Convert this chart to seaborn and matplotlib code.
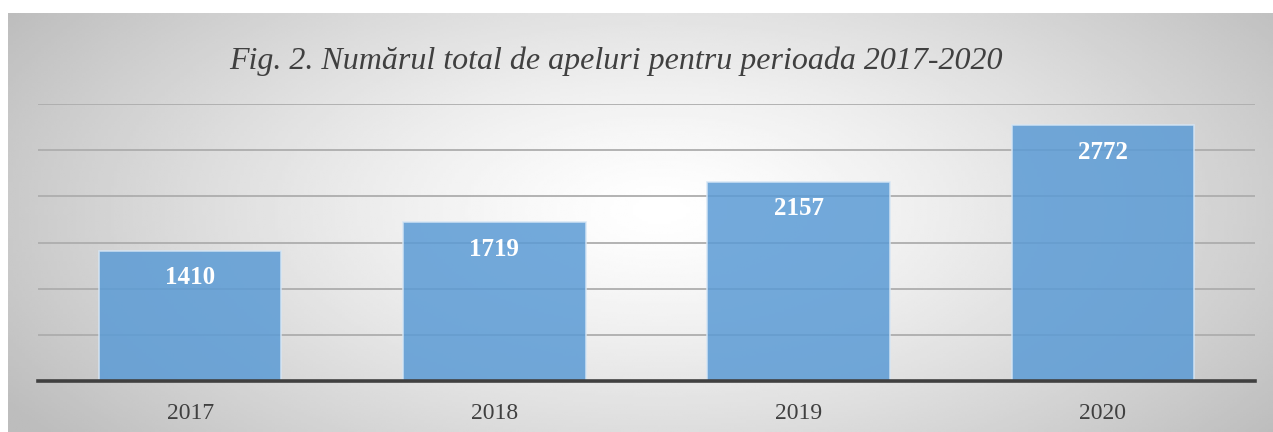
import numpy as np
import matplotlib
matplotlib.use("Agg")
import matplotlib.pyplot as plt
import seaborn as sns

years = ["2017", "2018", "2019", "2020"]
calls = [1410, 1719, 2157, 2772]
title = "Fig. 2. Numărul total de apeluri pentru perioada 2017-2020"

sns.set_style("white")
plt.rcParams["font.family"] = ["Liberation Serif", "DejaVu Serif"]

W, H = 1273, 432
fig = plt.figure(figsize=(W / 100, H / 100), dpi=100)
fig.patch.set_facecolor("white")

# radial grey background panel
bg = fig.add_axes([8 / W, 0, 1 - 8 / W, (H - 13) / H], zorder=-10)
gx, gy = np.meshgrid(np.linspace(8, W, 400), np.linspace(13, H, 200))
d = np.sqrt(((gx - 660) / 700) ** 2 + ((gy - 210) / 340) ** 2)
shade = np.clip(1.0 - 0.23 * d ** 1.3, 0.74, 1.0)
bg.imshow(shade, cmap="gray", vmin=0, vmax=1, aspect="auto",
          extent=[0, 1, 1, 0], interpolation="bilinear")
bg.axis("off")

ax = fig.add_axes([38 / W, (H - 381) / H, (1255 - 38) / W, (381 - 104) / H])
ax.set_facecolor("none")

sns.barplot(x=years, y=calls, color="#5B9BD5", saturation=1, width=0.6,
            alpha=0.85, edgecolor="#d6e6f5", linewidth=1.2, ax=ax)

for i, v in enumerate(calls):
    ax.annotate(str(v), (i, v), xytext=(0, -19.5), textcoords="offset points",
                ha="center", va="center", color="white", fontsize=18,
                fontweight="bold")

ax.set_ylim(0, 3000)
ax.set_xlim(-0.5, 3.5)
ax.set_yticks(np.arange(0, 3001, 500))
ax.set_yticklabels([])
ax.yaxis.grid(True, color="#adadad", linewidth=1.3)
ax.set_axisbelow(True)
ax.tick_params(axis="y", length=0)
ax.tick_params(axis="x", length=0, pad=16, labelsize=17, labelcolor="#404040")
ax.set_xlabel("")
ax.set_ylabel("")
for s in ["top", "left", "right"]:
    ax.spines[s].set_visible(False)
ax.spines["bottom"].set_color("#404040")
ax.spines["bottom"].set_linewidth(2.6)

fig.text(616 / W, 1 - 61 / H, title, ha="center", va="center",
         fontsize=23, style="italic", color="#404040")

fig.savefig("out.png", dpi=100)
